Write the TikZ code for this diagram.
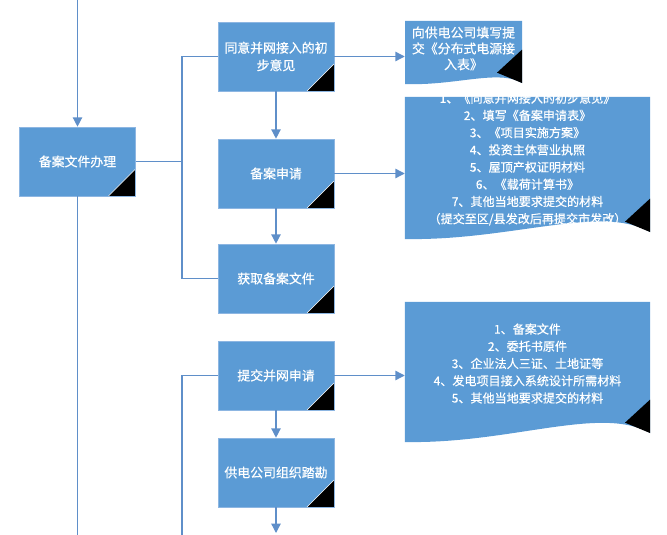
\documentclass[tikz,border=0pt]{standalone}
\usepackage{fontspec}
\setmainfont{Noto Sans CJK SC}[FakeBold=0.5]
\usepackage{tikz}
\usetikzlibrary{arrows.meta, positioning, calc}
\definecolor{boxblue}{HTML}{5B9BD5}
\definecolor{edgeblue}{HTML}{8DB6E2}
\definecolor{linkblue}{HTML}{5F8FC9}

\begin{document}
\begin{tikzpicture}[
    x=0.03cm, y=-0.03cm, % 1 unidad = 1 px de la imagen
    % Estilos de los pasos (rectángulo con esquina negra)
    stepbox/.style={
        draw=edgeblue, fill=boxblue, line width=0.5pt,
        minimum width=3.48cm, minimum height=2.07cm, inner sep=0pt,
        font=\fontsize{11pt}{15pt}\selectfont, text=white, align=center,
        path picture={
            \fill[black] (path picture bounding box.south east) -- ++(-0.81cm,0) -- ++(0.81cm,0.81cm) -- cycle;
            \draw[white, line width=0.4pt] ([xshift=-0.81cm]path picture bounding box.south east)
                -- ([yshift=0.81cm]path picture bounding box.south east);
        }
    },
    % Documento con borde inferior ondulado
    docnode/.style n args={4}{
        minimum width=#1, minimum height=#2, inner sep=0pt,
        path picture={
            \fill[boxblue] (path picture bounding box.north west)
                -- (path picture bounding box.north east)
                -- ([yshift=#3]path picture bounding box.south east)
                .. controls ([xshift=-0.2*#1, yshift=#3+#4]path picture bounding box.south east)
                and ([xshift=0.43*#1]path picture bounding box.south west)
                .. ([yshift=0.06cm]path picture bounding box.south west) -- cycle;
            \fill[black] ([yshift=#3]path picture bounding box.south east)
                -- ++(0,1cm) -- ++(-0.75cm,-0.69cm) -- cycle;
        }
    },
    doctext/.style={
        text=white, align=center, inner sep=0pt,
        font=\fontsize{10.3pt}{14.7pt}\selectfont
    },
    % Estilo de las líneas y flechas
    link/.style={line width=1.1pt, draw=linkblue},
    arrow/.style={-{Triangle[length=2.8mm, width=2.8mm]}, line width=1.1pt, draw=linkblue, color=linkblue}
]
    \useasboundingbox (0,0) rectangle (667,535);

    % 1. Paso principal
    \node[stepbox] (file) at (77.5,161.5) {备案文件办理};

    % 2. Pasos de la columna central
    \node[stepbox] (opinion) at (276,56.5)  {同意并网接入的初\\步意见};
    \node[stepbox] (apply)   at (276,173.5) {备案申请};
    \node[stepbox] (obtain)  at (276,278.5) {获取备案文件};
    \node[stepbox] (submit)  at (276,375.5) {提交并网申请};
    \node[stepbox] (survey)  at (276,472.5) {供电公司组织踏勘};

    % 3. Documentos de la derecha
    \node[docnode={3.51cm}{1.95cm}{0.09cm}{0.42cm}] (docA) at (463.5,53.5) {};
    \node[doctext, font=\fontsize{11pt}{13.6pt}\selectfont] (docAtext) at (463.5,48.5)
        {向供电公司填写提\\交《分布式电源接\\入表》};

    \node[docnode={7.35cm}{4.32cm}{0.27cm}{0.84cm}] (docB) at (527.5,169) {};
    \node[doctext] (docBtext) at (527.5,159)
        {1、《同意并网接入的初步意见》\\2、填写《备案申请表》\\3、《项目实施方案》\\4、投资主体营业执照\\5、屋顶产权证明材料\\6、《载荷计算书》\\7、其他当地要求提交的材料\\（提交至区/县发改后再提交市发改）};

    \node[docnode={7.35cm}{4.26cm}{0.33cm}{0.84cm}] (docC) at (527.5,373) {};
    \node[doctext] (docCtext) at (527.5,363.5)
        {1、备案文件\\2、委托书原件\\3、企业法人三证、土地证等\\4、发电项目接入系统设计所需材料\\5、其他当地要求提交的材料};

    % 4. Puntos libres de los conectores
    \coordinate (filein)     at (77.5,0);
    \coordinate (fileout)    at (77.5,535);
    \coordinate (bus)        at (182,161.5);
    \coordinate (busfoot)    at (182,535);
    \coordinate (surveyout)  at (276,533);

    % 5. Conectores de la izquierda
    \draw[arrow] (filein) -- (file.north);
    \draw[link] (file.south) -- (fileout);
    \draw[link] (file.east) -- (bus);
    \foreach \n in {opinion, obtain}
        \draw[link] (bus) |- (\n.west);
    \draw[link] (busfoot) |- (submit.west);

    % 6. Flechas verticales
    \draw[arrow] (opinion) -- (apply);
    \draw[arrow] (apply) -- (obtain);
    \draw[arrow] (submit) -- (survey);
    \draw[arrow] (survey) -- (surveyout);

    % 7. Flechas hacia los documentos
    \draw[arrow] (opinion.east) -- (opinion.east -| docA.west);
    \draw[arrow] (apply.east) -- (apply.east -| docB.west);
    \draw[arrow] (submit.east) -- (submit.east -| docC.west);

\end{tikzpicture}
\end{document}
